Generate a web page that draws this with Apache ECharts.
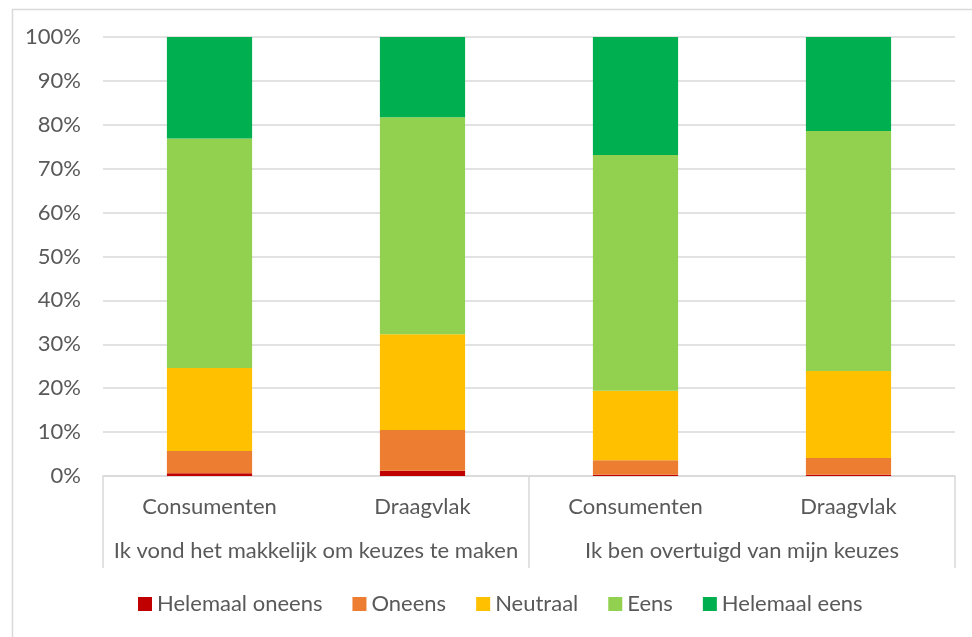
<!DOCTYPE html>
<html>
<head>
<meta charset="utf-8">
<script src="https://cdn.jsdelivr.net/npm/echarts@6/dist/echarts.min.js"></script>
<style>
html,body{margin:0;padding:0;background:#fff;}
#c{width:972px;height:637px;}
</style>
</head>
<body>
<div id="c"></div>
<script>
const subCategories = ['Consumenten', 'Draagvlak', 'Consumenten', 'Draagvlak'];
const groups = ['Ik vond het makkelijk om keuzes te maken', 'Ik ben overtuigd van mijn keuzes'];
const seriesNames = ['Helemaal oneens', 'Oneens', 'Neutraal', 'Eens', 'Helemaal eens'];
const helemaalOneens = [0.6, 1.2, 0.3, 0.3];
const oneens = [5.1, 9.3, 3.3, 3.8];
const neutraal = [18.9, 21.8, 15.8, 19.8];
const eens = [52.3, 49.4, 53.7, 54.7];
const helemaalEens = [23.1, 18.3, 26.9, 21.4];
const yTicks = [0, 10, 20, 30, 40, 50, 60, 70, 80, 90, 100];

const colors = ['#C00000', '#ED7D31', '#FFC000', '#92D050', '#00B050'];
const values = [helemaalOneens, oneens, neutraal, eens, helemaalEens];
const FONT = 'Lato';
const TXT = '#595959';

const chart = echarts.init(document.getElementById('c'));
chart.setOption({
  animation: false,
  textStyle: { fontFamily: FONT },
  graphic: [{
    type: 'rect', left: 10, top: 7, silent: true,
    shape: { width: 1000, height: 700 },
    style: { fill: 'none', stroke: '#D9D9D9', lineWidth: 1.5 }
  }],
  grid: { left: 103, right: 17, top: 37, bottom: 161 },
  legend: {
    data: seriesNames,
    bottom: 17,
    left: 133,
    itemWidth: 14, itemHeight: 14, itemGap: 30,
    icon: 'rect',
    textStyle: { color: TXT, fontSize: 22, fontFamily: FONT }
  },
  xAxis: [{
    type: 'category',
    data: subCategories,
    position: 'bottom',
    axisLine: { show: true, lineStyle: { color: '#D9D9D9', width: 1.5 } },
    axisTick: { show: false },
    axisLabel: { color: TXT, fontSize: 22, margin: 20, interval: 0, fontFamily: FONT }
  }, {
    type: 'category',
    data: groups,
    position: 'bottom',
    axisLine: { show: false },
    axisTick: { show: true, length: 92, interval: 0, lineStyle: { color: '#D9D9D9', width: 1.5 } },
    axisLabel: { color: TXT, fontSize: 22, margin: 64, interval: 0, fontFamily: FONT }
  }],
  yAxis: {
    type: 'value',
    min: 0, max: 100, interval: 10,
    axisLine: { show: false },
    axisTick: { show: false },
    splitLine: { lineStyle: { color: '#D9D9D9', width: 1.5 } },
    axisLabel: {
      color: TXT, fontSize: 22, margin: 22, fontFamily: FONT,
      formatter: v => (yTicks.indexOf(v) >= 0 ? v + '%' : '')
    }
  },
  series: seriesNames.map((n, i) => ({
    name: n,
    type: 'bar',
    stack: 'total',
    xAxisIndex: 0,
    barWidth: '40%',
    data: values[i],
    itemStyle: { color: colors[i] }
  }))
});
</script>
</body>
</html>
